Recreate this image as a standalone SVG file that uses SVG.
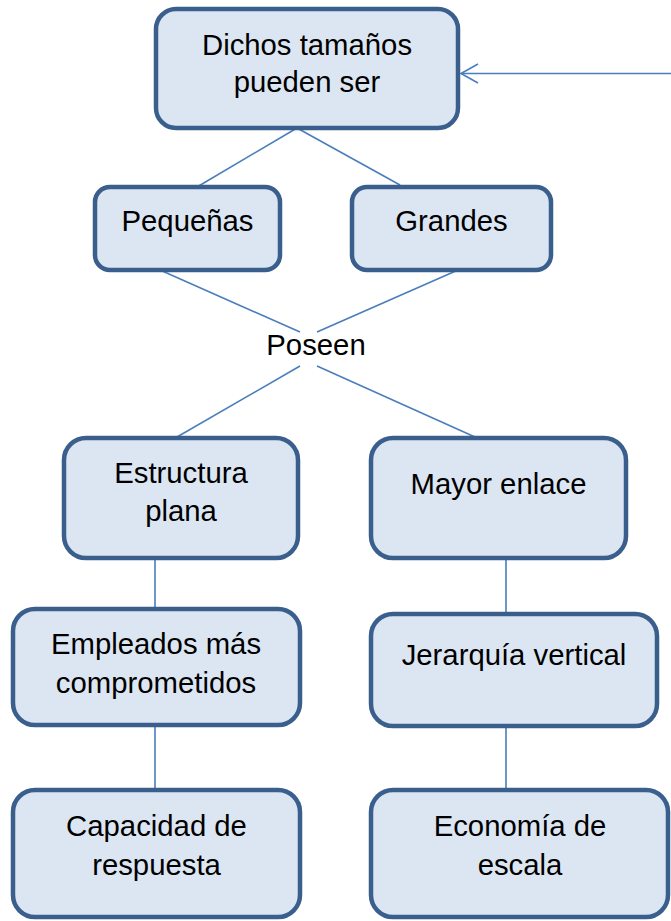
<svg xmlns="http://www.w3.org/2000/svg" width="671" height="921" viewBox="0 0 671 921">
<style>
.box{fill:#DCE6F2;stroke:#3A5F8D;stroke-width:4.5}
.t{font-family:"Liberation Sans",Arial,sans-serif;font-size:29.3px;fill:#000;text-anchor:middle}
.c{stroke:#4A7EBB;stroke-width:1.6;fill:none}
</style>
<defs>
<marker id="arr" markerWidth="20" markerHeight="22" refX="19" refY="11" orient="auto" markerUnits="userSpaceOnUse" viewBox="0 0 20 22" overflow="visible">
<path d="M2,1.5 L19,11 L2,20.5" fill="none" stroke="#4A7EBB" stroke-width="1.6"/>
</marker>
</defs>
<rect width="671" height="921" fill="#fff"/>
<g id="connectors">
<line class="c" x1="671" y1="73.5" x2="461" y2="73.5" marker-end="url(#arr)"/>
<line class="c" x1="297" y1="128" x2="197" y2="187"/>
<line class="c" x1="297" y1="128" x2="400" y2="185"/>
<line class="c" x1="160" y1="270" x2="300" y2="332"/>
<line class="c" x1="458" y1="270" x2="317" y2="332"/>
<line class="c" x1="300" y1="366" x2="177" y2="437"/>
<line class="c" x1="317" y1="366" x2="475" y2="437"/>
<line class="c" x1="155" y1="560" x2="155" y2="608"/>
<line class="c" x1="506" y1="560" x2="506" y2="613"/>
<line class="c" x1="155" y1="727" x2="155" y2="790"/>
<line class="c" x1="506" y1="727" x2="506" y2="790"/>
</g>
<g id="n-dichos">
<rect class="box" x="156" y="9" width="302" height="119" rx="20"/>
<text class="t" x="307" y="55">Dichos tamaños</text>
<text class="t" x="307" y="92">pueden ser</text>
</g>
<g id="n-pequenas">
<rect class="box" x="95" y="187" width="185" height="83" rx="15"/>
<text class="t" x="187.5" y="231">Pequeñas</text>
</g>
<g id="n-grandes">
<rect class="box" x="352" y="187" width="199" height="83" rx="15"/>
<text class="t" x="451.5" y="231">Grandes</text>
</g>
<g id="n-poseen">
<text class="t" x="316" y="355">Poseen</text>
</g>
<g id="n-estructura">
<rect class="box" x="64" y="438" width="234" height="120" rx="22"/>
<text class="t" x="181" y="483">Estructura</text>
<text class="t" x="181" y="521">plana</text>
</g>
<g id="n-mayor">
<rect class="box" x="371" y="438" width="255" height="120" rx="22"/>
<text class="t" x="498.5" y="494">Mayor enlace</text>
</g>
<g id="n-empleados">
<rect class="box" x="13" y="609" width="287" height="116" rx="22"/>
<text class="t" x="156" y="654">Empleados más</text>
<text class="t" x="156" y="693">comprometidos</text>
</g>
<g id="n-jerarquia">
<rect class="box" x="371" y="614" width="286" height="112" rx="22"/>
<text class="t" x="514" y="665">Jerarquía vertical</text>
</g>
<g id="n-capacidad">
<rect class="box" x="13" y="790" width="287" height="127" rx="22"/>
<text class="t" x="156.5" y="836">Capacidad de</text>
<text class="t" x="156.5" y="875">respuesta</text>
</g>
<g id="n-economia">
<rect class="box" x="371" y="790" width="297" height="127" rx="22"/>
<text class="t" x="520" y="836">Economía de</text>
<text class="t" x="520" y="875">escala</text>
</g>
</svg>
